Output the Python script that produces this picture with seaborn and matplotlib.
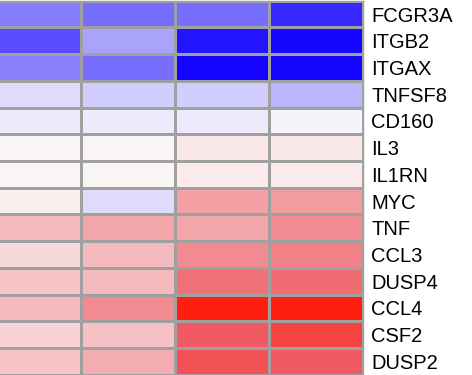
import numpy as np
import pandas as pd
import matplotlib
matplotlib.use("Agg")
import matplotlib.pyplot as plt
import seaborn as sns
from matplotlib.colors import LinearSegmentedColormap

genes = ["FCGR3A", "ITGB2", "ITGAX", "TNFSF8", "CD160", "IL3", "IL1RN",
         "MYC", "TNF", "CCL3", "DUSP4", "CCL4", "CSF2", "DUSP2"]
samples = ["S1", "S2", "S3", "S4"]

s1 = [-0.50, -0.69, -0.49, -0.12, -0.07, 0.02, 0.02, 0.05, 0.26, 0.14, 0.22, 0.26, 0.17, 0.22]
s2 = [-0.57, -0.35, -0.56, -0.18, -0.07, 0.02, 0.02, -0.12, 0.34, 0.26, 0.26, 0.44, 0.23, 0.32]
s3 = [-0.56, -0.92, -0.98, -0.18, -0.07, 0.08, 0.07, 0.36, 0.34, 0.44, 0.54, 0.90, 0.63, 0.67]
s4 = [-0.83, -0.97, -0.97, -0.28, -0.03, 0.08, 0.07, 0.38, 0.44, 0.48, 0.56, 0.90, 0.73, 0.63]

df = pd.DataFrame(dict(zip(samples, [s1, s2, s3, s4])), index=genes)

# blue -> white -> red, reds a bit muted like the original
cmap = LinearSegmentedColormap.from_list(
    "bwr_soft",
    [(0.0, "#1000ff"), (0.5, "#fcfbfb"), (0.675, "#f2a4a8"),
     (0.815, "#f05a62"), (0.95, "#ff2010"), (1.0, "#ff0000")],
)

plt.rcParams["font.family"] = ["Liberation Sans", "DejaVu Sans"]

fig = plt.figure(figsize=(4.72, 3.75), dpi=100)
ax = fig.add_axes([-13 / 472, 0.001, 376 / 472, 0.997])
sns.heatmap(df, ax=ax, cmap=cmap, vmin=-1, vmax=1, cbar=False,
            linewidths=1, linecolor="#a0a0a0", xticklabels=False)

ax.yaxis.tick_right()
ax.tick_params(axis="y", length=0, pad=6, labelsize=14.5, labelrotation=0)
ax.set_xlabel("")
ax.set_ylabel("")
for sp in ax.spines.values():
    sp.set_visible(True)
    sp.set_color("#a0a0a0")
    sp.set_linewidth(1)

fig.savefig("out.png", dpi=100)
